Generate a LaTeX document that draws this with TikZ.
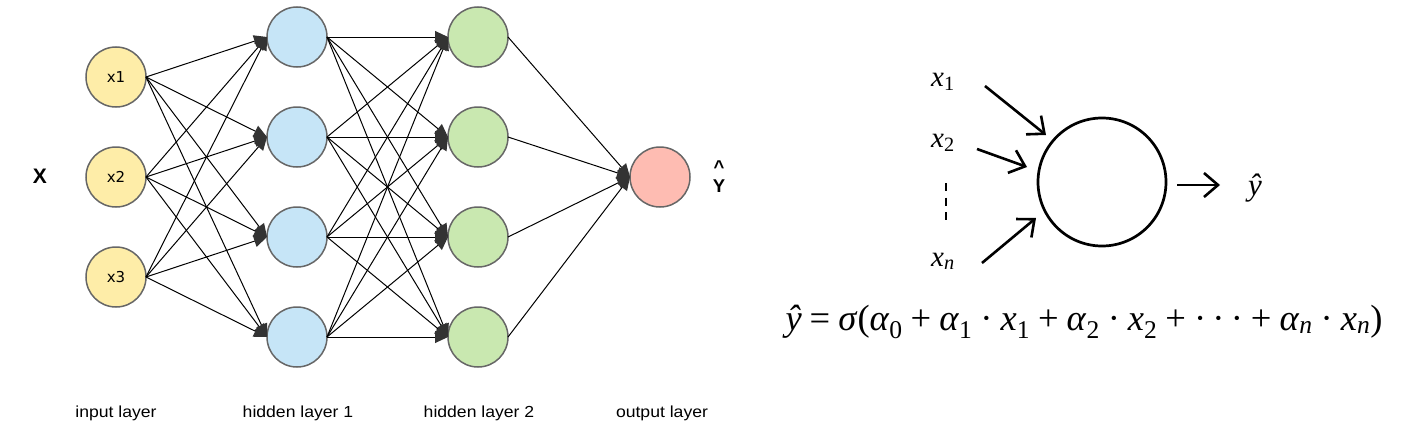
\documentclass[tikz,border=0pt]{standalone}
\usepackage[no-math]{fontspec}
\setmainfont{Liberation Serif}
\newfontfamily\lblfont[FakeStretch=1.1]{Liberation Sans}
\newfontfamily\nodefont{DejaVu Sans}
\newfontfamily\capfont{Liberation Sans}
\usetikzlibrary{arrows.meta}
\definecolor{inY}{HTML}{FEEDA8}
\definecolor{hidB}{HTML}{C6E5F7}
\definecolor{hidG}{HTML}{C9E8B0}
\definecolor{outR}{HTML}{FEBCB2}
\definecolor{ncol}{HTML}{666666}
\definecolor{tipc}{HTML}{333333}
\newcommand\ii[1]{\textit{#1}}
\newcommand\sbs[1]{\textsubscript{#1}}
\newcommand\op[1]{\hspace{0.22em}#1\hspace{0.22em}}
\tikzset{
  neuron/.style={circle, draw=ncol, line width=1.5pt, minimum size=60pt, inner sep=0pt, outer sep=0pt},
  conn/.style={line width=1pt, draw=black, -{Triangle[length=13pt,width=12pt,fill=tipc,color=tipc]}},
  lab/.style={font=\lblfont\fontsize{16}{18}\selectfont, anchor=base},
  ntext/.style={font=\nodefont\fontsize{15}{18}\selectfont},
  bigcap/.style={font=\capfont\bfseries\fontsize{21}{21}\selectfont},
  mlab/.style={font=\fontsize{29}{34}\selectfont, anchor=base west, inner sep=0pt},
  barb/.style={line width=2.6pt, -{Straight Barb[length=14pt,width=24pt]}}
}
\begin{document}
\begin{tikzpicture}[x=1pt,y=-1pt]
\useasboundingbox (0,0) rectangle (1422,431);
\fill[white] (0,0) rectangle (1422,431);
% input layer
\foreach \i/\y in {1/77,2/177,3/277}
  \node[neuron, fill=inY, ntext] (i\i) at (116,\y) {x\i};
% hidden layers
\foreach \j/\y in {1/37,2/137,3/237,4/337}{
  \node[neuron, fill=hidB] (h\j) at (297,\y) {};
  \node[neuron, fill=hidG] (g\j) at (478,\y) {};
}
\node[neuron, fill=outR] (o) at (660,177) {};
% connections
\foreach \i in {1,2,3}
  \foreach \j in {1,2,3,4}
    \draw[conn] (i\i.east) -- (h\j.west);
\foreach \i in {1,2,3,4}
  \foreach \j in {1,2,3,4}
    \draw[conn] (h\i.east) -- (g\j.west);
\foreach \i in {1,2,3,4}
  \draw[conn] (g\i.east) -- (o.west);
% captions
\node[bigcap] (X) at (40,176) {X};
\node[bigcap, font=\capfont\bfseries\fontsize{18.5}{18.5}\selectfont, anchor=base, inner sep=0pt] (Yh) at (719,192)
  {\def\arraystretch{1}\begin{tabular}[b]{@{}c@{}}\textasciicircum\\Y\end{tabular}};
\node[lab] (l1) at (116,417) {input layer};
\node[lab] (l2) at (298,417) {hidden layer 1};
\node[lab] (l3) at (479,417) {hidden layer 2};
\node[lab] (l4) at (662,417) {output layer};
% single neuron
\node[circle, draw=black, line width=2.7pt, minimum size=128pt, inner sep=0pt] (neu) at (1102,182) {};
\node[mlab] (x1) at (931,86) {\ii{x}\sbs{1}};
\node[mlab] (x2) at (931,147) {\ii{x}\sbs{2}};
\node[mlab] (xn) at (931,266) {\ii{x}\sbs{\ii{n}}};
\node[mlab, font=\fontsize{31}{34}\selectfont] (yh) at (1248,195) {\ii{ŷ}};
\draw[line width=2.8pt, dash pattern=on 8pt off 6.5pt] (946,183) -- (946,222);
\coordinate (a1s) at (985,86);   \coordinate (a1e) at (1046,135);
\coordinate (a2s) at (977,149);  \coordinate (a2e) at (1027,167);
\coordinate (ans) at (982,263);  \coordinate (ane) at (1036,218);
\coordinate (aos) at (1177,185); \coordinate (aoe) at (1220,185);
\draw[barb] (a1s) -- (a1e);
\draw[barb] (a2s) -- (a2e);
\draw[barb] (ans) -- (ane);
\draw[barb] (aos) -- (aoe);
% formula
\node[anchor=base, font=\fontsize{36.5}{40}\selectfont, inner sep=0pt] (eq) at (1084,330)
  {\ii{ŷ}\op{=}\ii{σ}(\ii{α}\sbs{0}\op{+}\ii{α}\sbs{1}\op{·}\ii{x}\sbs{1}\op{+}\ii{α}\sbs{2}\op{·}\ii{x}\sbs{2}\op{+}·\hspace{0.17em}·\hspace{0.17em}·\op{+}\ii{α}\sbs{\ii{n}}\op{·}\ii{x}\sbs{\ii{n}})};
\end{tikzpicture}
\end{document}
